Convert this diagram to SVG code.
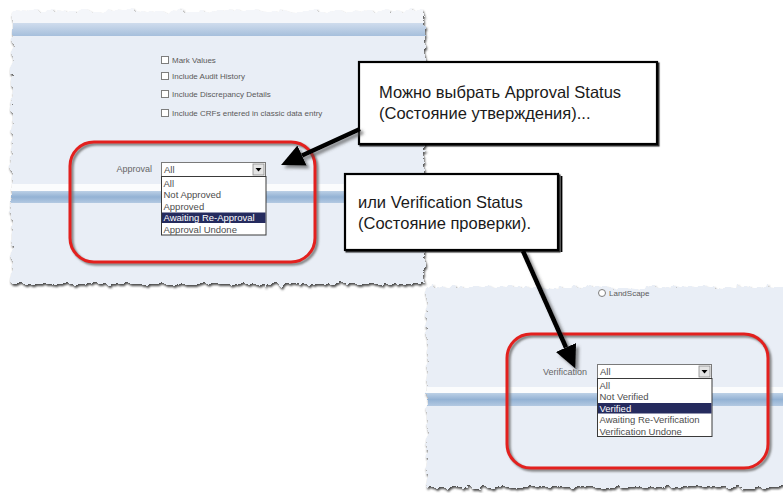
<svg xmlns="http://www.w3.org/2000/svg" width="783" height="496" viewBox="0 0 783 496">
<style>
  .ui{font-family:"Liberation Sans",Arial,sans-serif;fill:#5a5a5a}
  .chk{font-size:8px}
  .lbl{font-size:9px;fill:#666}
  .opt{font-size:9.5px;fill:#4d4d4d}
  .sel{fill:#ffffff;stroke:#7a7a7a;stroke-width:1}
  .list{fill:#ffffff;stroke:#3a3a3a;stroke-width:1}
  .hl{fill:#252b5e}
  .hlt{fill:#ffffff}
  .btn{fill:#e4e4e4;stroke:#8a8a8a;stroke-width:0.8}
  .cb{fill:#ffffff;stroke:#7d7d7d;stroke-width:1}
  .redbox{fill:none;stroke:#e3201e;stroke-width:3}
  .redsh{fill:none;stroke:#7a7a7a;stroke-width:3;filter:url(#soft)}
  .callout{fill:#ffffff;stroke:#000000;stroke-width:2.2}
  .ctext{font-family:"Liberation Sans",Arial,sans-serif;font-size:16.5px;fill:#1a1a1a}
  .arrow{stroke:#000000;stroke-width:4.5;fill:none;marker-end:url(#ah)}
</style>
<defs>
  <linearGradient id="hdr" x1="0" y1="0" x2="0" y2="1">
    <stop offset="0" stop-color="#cfdced"/>
    <stop offset="1" stop-color="#a6bfdc"/>
  </linearGradient>
  <linearGradient id="band" x1="0" y1="0" x2="0" y2="1">
    <stop offset="0" stop-color="#bcd0e6"/>
    <stop offset="0.5" stop-color="#93b2d4"/>
    <stop offset="1" stop-color="#b3c9e2"/>
  </linearGradient>
  <filter id="torn" x="-3%" y="-3%" width="106%" height="106%">
    <feTurbulence type="fractalNoise" baseFrequency="0.14" numOctaves="3" seed="4" result="n"/>
    <feDisplacementMap in="SourceGraphic" in2="n" scale="9" xChannelSelector="R" yChannelSelector="G"/>
  </filter>
  <filter id="tornShadow" x="-3%" y="-3%" width="106%" height="106%">
    <feTurbulence type="fractalNoise" baseFrequency="0.14" numOctaves="3" seed="4" result="n"/>
    <feDisplacementMap in="SourceGraphic" in2="n" scale="9" xChannelSelector="R" yChannelSelector="G" result="d"/>
    <feGaussianBlur in="d" stdDeviation="1.3" result="b"/>
    <feOffset in="b" dx="1" dy="1.5" result="o"/>
    <feFlood flood-color="#4a4a4a"/>
    <feComposite in2="o" operator="in"/>
  </filter>
  <filter id="soft" x="-5%" y="-5%" width="110%" height="110%">
    <feGaussianBlur stdDeviation="0.8"/>
  </filter>
  <filter id="boxsh" x="-5%" y="-5%" width="110%" height="115%">
    <feDropShadow dx="1.5" dy="1.5" stdDeviation="0.4" flood-color="#000" flood-opacity="0.8"/>
  </filter>
  <filter id="arrsh" x="-20%" y="-20%" width="140%" height="140%">
    <feDropShadow dx="3" dy="3" stdDeviation="1.5" flood-color="#444" flood-opacity="0.6"/>
  </filter>
  <marker id="ah" markerUnits="userSpaceOnUse" markerWidth="26" markerHeight="24" refX="0" refY="11" orient="auto">
    <path d="M0,0 L23,11 L0,22 Z" fill="#000"/>
  </marker>
  <mask id="mL" maskUnits="userSpaceOnUse" x="0" y="0" width="783" height="496">
    <rect x="12" y="11" width="412" height="273" fill="#fff" filter="url(#torn)"/>
  </mask>
  <mask id="mR" maskUnits="userSpaceOnUse" x="0" y="0" width="783" height="496">
    <rect x="427" y="287" width="380" height="200" fill="#fff" filter="url(#torn)"/>
  </mask>
</defs>

<rect x="0" y="0" width="783" height="496" fill="#ffffff"/>

<!-- Left panel: approval -->
<g id="panel-approval">
  <rect x="12" y="11" width="412" height="273" fill="#000" filter="url(#tornShadow)"/>
  <g mask="url(#mL)">
    <rect x="0" y="0" width="440" height="300" fill="#e9eef6"/>
    <rect x="0" y="0" width="440" height="23" fill="#f4f6fa"/>
    <rect x="0" y="23" width="440" height="13" fill="url(#hdr)"/>
    <rect x="0" y="184" width="440" height="7" fill="#fbfcfd"/>
    <rect x="0" y="191" width="440" height="12" fill="url(#band)"/>
  </g>
  <g class="ui chk">
    <rect class="cb" x="161.5" y="56.5" width="7" height="7"/>
    <text x="172" y="63">Mark Values</text>
    <rect class="cb" x="161.5" y="72.5" width="7" height="7"/>
    <text x="172" y="79">Include Audit History</text>
    <rect class="cb" x="161.5" y="90.5" width="7" height="7"/>
    <text x="172" y="97">Include Discrepancy Details</text>
    <rect class="cb" x="161.5" y="109.5" width="7" height="7"/>
    <text x="172" y="116">Include CRFs entered in classic data entry</text>
  </g>
  <rect class="redsh" x="72" y="144" width="245" height="120" rx="24"/>
  <rect class="redbox" x="70" y="142" width="245" height="120" rx="24"/>
  <text class="ui lbl" x="152" y="172" text-anchor="end">Approval</text>
  <rect class="sel" x="161.5" y="162.5" width="104" height="14"/>
  <text class="ui opt" x="164" y="173">All</text>
  <rect class="btn" x="253" y="164" width="11" height="11"/>
  <path d="M255.5,168 L261.5,168 L258.5,171.5 Z" fill="#000"/>
  <rect class="list" x="161.5" y="176.5" width="104.5" height="58.5"/>
  <rect class="hl" x="162" y="212.5" width="103.5" height="10.5"/>
  <g class="ui opt">
    <text x="163.5" y="186.5">All</text>
    <text x="163.5" y="198">Not Approved</text>
    <text x="163.5" y="209.5">Approved</text>
    <text x="163.5" y="221" class="ui opt hlt">Awaiting Re-Approval</text>
    <text x="163.5" y="232.5">Approval Undone</text>
  </g>
</g>

<!-- Right panel: verification -->
<g id="panel-verification">
  <rect x="427" y="287" width="380" height="200" fill="#000" filter="url(#tornShadow)"/>
  <g mask="url(#mR)">
    <rect x="420" y="280" width="400" height="216" fill="#e9eef6"/>
    <rect x="420" y="387" width="400" height="6" fill="#fbfcfd"/>
    <rect x="420" y="393" width="400" height="13" fill="url(#band)"/>
  </g>
  <circle cx="602" cy="293" r="3.5" fill="#fff" stroke="#7d7d7d" stroke-width="1"/>
  <text class="ui chk" x="609" y="296">LandScape</text>
  <rect class="redsh" x="509" y="336" width="261" height="134" rx="24"/>
  <rect class="redbox" x="507" y="334" width="261" height="134" rx="24"/>
  <text class="ui lbl" x="587" y="375" text-anchor="end">Verification</text>
  <rect class="sel" x="597.5" y="364.5" width="114" height="14"/>
  <text class="ui opt" x="600" y="375">All</text>
  <rect class="btn" x="699" y="366" width="11" height="11"/>
  <path d="M701.5,370 L707.5,370 L704.5,373.5 Z" fill="#000"/>
  <rect class="list" x="597.5" y="378.5" width="114.5" height="58"/>
  <rect class="hl" x="598" y="403" width="113.5" height="10.5"/>
  <g class="ui opt">
    <text x="599.5" y="388.5">All</text>
    <text x="599.5" y="400">Not Verified</text>
    <text x="599.5" y="411.5" class="ui opt hlt">Verified</text>
    <text x="599.5" y="423">Awaiting Re-Verification</text>
    <text x="599.5" y="434.5">Verification Undone</text>
  </g>
</g>

<!-- Callouts -->
<g id="callout-approval">
  <rect class="callout" x="359" y="62" width="298" height="82" filter="url(#boxsh)"/>
  <text class="ctext" x="379" y="98">Можно выбрать Approval Status</text>
  <text class="ctext" x="379" y="119">(Состояние утверждения)...</text>
</g>
<g id="callout-verification">
  <rect class="callout" x="345" y="174" width="213" height="76" filter="url(#boxsh)"/>
  <line x1="561.5" y1="176" x2="561.5" y2="252" stroke="#000" stroke-width="1.8"/>
  <text class="ctext" x="358" y="208">или Verification Status</text>
  <text class="ctext" x="358" y="229">(Состояние проверки).</text>
</g>

<!-- Connectors -->
<g id="connectors" filter="url(#arrsh)">
  <line class="arrow" x1="360" y1="129" x2="302" y2="155.5"/>
  <line class="arrow" x1="523" y1="251" x2="566" y2="347.5"/>
</g>
</svg>
